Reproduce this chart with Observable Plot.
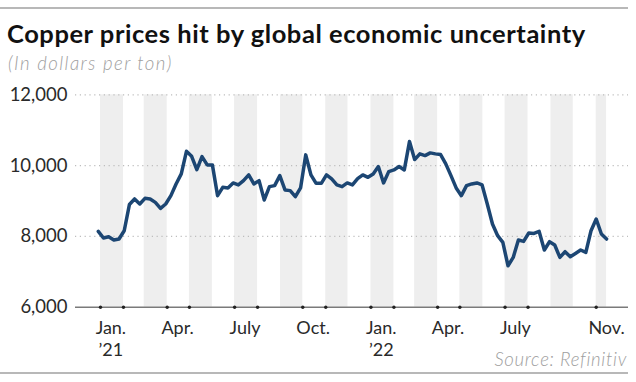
<!DOCTYPE html>
<html><head><meta charset="utf-8">
<script src="https://cdn.jsdelivr.net/npm/d3@7"></script>
<script src="https://cdn.jsdelivr.net/npm/@observablehq/plot@0.6"></script>
<style>
body{margin:0;background:#fff;font-family:Lato,sans-serif;}
#wrap{position:relative;width:636px;height:382px;overflow:hidden;background:#fff;}
.rule{position:absolute;left:0;width:628px;height:2px;background:#b8b8b8;}
#title{position:absolute;left:7px;top:20.7px;font-size:25.5px;font-weight:700;letter-spacing:0.55px;color:#111;white-space:nowrap;line-height:1;}
#sub{position:absolute;left:8px;top:53.5px;font-size:18.6px;font-weight:300;font-style:italic;letter-spacing:1.45px;color:#9e9e9e;white-space:nowrap;line-height:1;}
#src{position:absolute;right:9px;top:350.2px;font-size:18.6px;font-weight:300;font-style:italic;letter-spacing:0.7px;color:#9e9e9e;white-space:nowrap;line-height:1;}
#chart{position:absolute;left:0;top:80px;}
</style></head>
<body>
<div id="wrap">
  <div class="rule" style="top:7px"></div>
  <div id="title">Copper prices hit by global economic uncertainty</div>
  <div id="sub">(In dollars per ton)</div>
  <div id="chart"></div>
  <div id="src">Source: Refinitiv</div>
  <div class="rule" style="top:372px"></div>
</div>
<script>
// Weekly copper prices, first week starting 2020-12-29
const startWeek = "2020-12-29";
const prices = [
  8141, 7954, 7990, 7898, 7926, 8160, 8900, 9058, 8916, 9075,
  9058, 8962, 8792, 8916, 9151, 9482, 9765, 10404, 10263, 9887,
  10254, 10020, 10020, 9151, 9386, 9370, 9510, 9454, 9576, 9737,
  9482, 9576, 9030, 9406, 9434, 9717, 9312, 9293, 9123, 9370,
  10303, 9737, 9499, 9499, 9737, 9624, 9454, 9406, 9510, 9454,
  9630, 9737, 9669, 9765, 9972, 9510, 9830, 9878, 9972, 9878,
  10679, 10170, 10331, 10283, 10359, 10331, 10311, 10048, 9717, 9370,
  9151, 9434, 9482, 9510, 9454, 8916, 8350, 8020, 7830, 7171,
  7406, 7898, 7859, 8095, 8085, 8141, 7615, 7850, 7757, 7406,
  7567, 7425, 7519, 7615, 7547, 8160, 8492, 8067, 7926
];
const shadedMonths = ["2021-01-01","2021-03-01","2021-05-01","2021-07-01","2021-09-01","2021-11-01",
  "2022-01-01","2022-03-01","2022-05-01","2022-07-01","2022-09-01","2022-11-01"];
const tickEdges = ["2021-01-01","2021-02-01","2021-04-01","2021-05-01","2021-07-01","2021-08-01",
  "2021-10-01","2021-11-01","2022-01-01","2022-02-01","2022-04-01","2022-05-01",
  "2022-07-01","2022-08-01","2022-11-01"];
const tickDates = ["2021-01-15","2021-04-15","2021-07-15","2021-10-15","2022-01-15","2022-04-15","2022-07-15","2022-11-15"];
const tickLabels = ["Jan.\n\u201921","Apr.","July","Oct.","Jan.\n\u201922","Apr.","July","Nov."];
const yTicks = [6000, 8000, 10000, 12000];
const gridTicks = [8000, 10000, 12000];

const series = prices.map((p, i) => ({date: d3.utcDay.offset(new Date(startWeek), 7 * i), price: p}));
const dataEnd = series[series.length - 1].date;
const bands = shadedMonths.map(m => {
  const s = new Date(m);
  const e = d3.utcMonth.offset(s, 1);
  return {start: s, end: e > dataEnd ? dataEnd : e};
});
const ticks = tickDates.map((d, i) => ({date: new Date(d), label: tickLabels[i]}));

const chart = Plot.plot({
  width: 636,
  height: 280,
  marginLeft: 75,
  marginRight: 8,
  marginTop: 14.3,
  marginBottom: 53.3,
  style: {fontFamily: "Lato, sans-serif", fontSize: "18px", background: "transparent", overflow: "visible"},
  x: {type: "utc", domain: [new Date("2021-01-01"), new Date("2022-11-01")], range: [100, 595.7], axis: null},
  y: {domain: [6000, 12000], axis: null},
  marks: [
    Plot.rect(bands, {x1: "start", x2: "end", fill: "#eeeeee"}),
    Plot.ruleY(gridTicks, {stroke: "#bdbdbd", strokeWidth: 1.2, strokeDasharray: "1.2,3.6"}),
    Plot.ruleY([6000], {stroke: "#7a7a7a", strokeWidth: 1.6}),
    Plot.axisY({ticks: yTicks, label: null, tickSize: 0, tickPadding: 8, tickFormat: d3.format(","), fontSize: 18.5, fill: "#2a2a2a"}),
    Plot.dot(tickEdges, {x: d => new Date(d), frameAnchor: "bottom", r: 1.7, fill: "#222", stroke: null}),
    Plot.text(ticks, {x: "date", text: "label", frameAnchor: "bottom", dy: 11.5, lineAnchor: "top", lineHeight: 1.2, fontSize: 18, fill: "#2a2a2a"}),
    Plot.line(series, {x: "date", y: "price", stroke: "#1c4673", strokeWidth: 3.5, strokeLinejoin: "round", strokeLinecap: "round"})
  ]
});
document.getElementById("chart").appendChild(chart);
</script>
</body></html>
